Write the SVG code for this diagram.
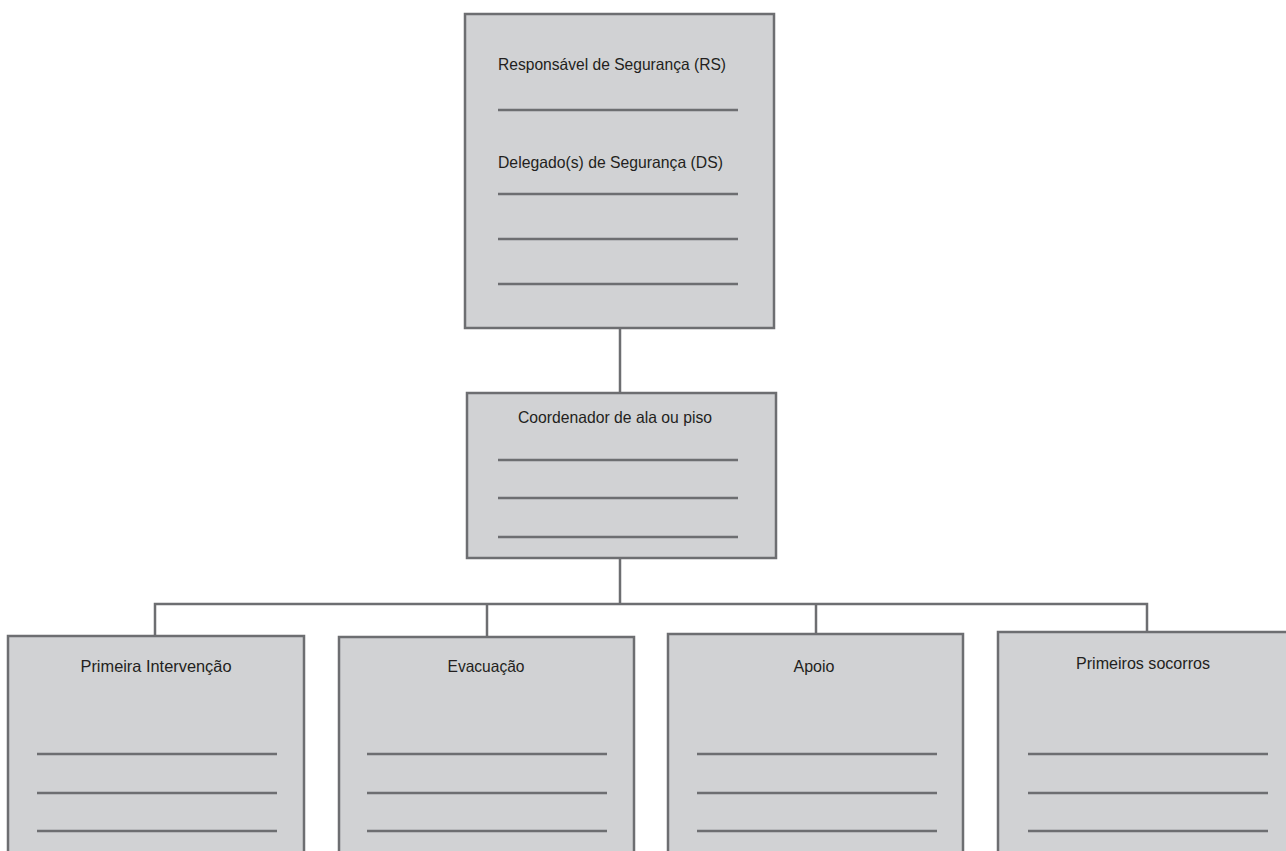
<svg xmlns="http://www.w3.org/2000/svg" width="1286" height="851" viewBox="0 0 1286 851">
<style>
.box{fill:#d1d2d4;stroke:#6d6e71;stroke-width:2.5}
.rule{stroke:#6d6e71;stroke-width:2.5}
.conn{fill:none;stroke:#6d6e71;stroke-width:2.5}
.t{font-family:"Liberation Sans",Arial,sans-serif;font-size:16.5px;fill:#231f20}
.c{text-anchor:middle}
</style>
<rect width="1286" height="851" fill="#ffffff"/>
<g id="connectors">
<line class="conn" x1="620" y1="328" x2="620" y2="393"/>
<line class="conn" x1="620" y1="558" x2="620" y2="604"/>
<polyline class="conn" points="155,636 155,604 1147,604 1147,632"/>
<line class="conn" x1="487" y1="604" x2="487" y2="637"/>
<line class="conn" x1="816" y1="604" x2="816" y2="634"/>
</g>
<g id="node-rs">
<rect class="box" x="465" y="14" width="309" height="314"/>
<text class="t" x="498" y="70" textLength="228" lengthAdjust="spacingAndGlyphs">Responsável de Segurança (RS)</text>
<line class="rule" x1="498" y1="110" x2="738" y2="110"/>
<text class="t" x="498" y="168" textLength="225" lengthAdjust="spacingAndGlyphs">Delegado(s) de Segurança (DS)</text>
<line class="rule" x1="498" y1="194" x2="738" y2="194"/>
<line class="rule" x1="498" y1="239" x2="738" y2="239"/>
<line class="rule" x1="498" y1="284" x2="738" y2="284"/>
</g>
<g id="node-coordenador">
<rect class="box" x="467" y="393" width="309" height="165"/>
<text class="t c" x="615" y="423" textLength="194" lengthAdjust="spacingAndGlyphs">Coordenador de ala ou piso</text>
<line class="rule" x1="498" y1="460" x2="738" y2="460"/>
<line class="rule" x1="498" y1="498" x2="738" y2="498"/>
<line class="rule" x1="498" y1="537" x2="738" y2="537"/>
</g>
<g id="node-primeira">
<rect class="box" x="8" y="636" width="296" height="220"/>
<text class="t c" x="156" y="672" textLength="151" lengthAdjust="spacingAndGlyphs">Primeira Intervenção</text>
<line class="rule" x1="37" y1="754" x2="277" y2="754"/>
<line class="rule" x1="37" y1="793" x2="277" y2="793"/>
<line class="rule" x1="37" y1="831" x2="277" y2="831"/>
</g>
<g id="node-evacuacao">
<rect class="box" x="339" y="637" width="295" height="220"/>
<text class="t c" x="486" y="672" textLength="77" lengthAdjust="spacingAndGlyphs">Evacuação</text>
<line class="rule" x1="367" y1="754" x2="607" y2="754"/>
<line class="rule" x1="367" y1="793" x2="607" y2="793"/>
<line class="rule" x1="367" y1="831" x2="607" y2="831"/>
</g>
<g id="node-apoio">
<rect class="box" x="668" y="634" width="295" height="222"/>
<text class="t c" x="814" y="672" textLength="41" lengthAdjust="spacingAndGlyphs">Apoio</text>
<line class="rule" x1="697" y1="754" x2="937" y2="754"/>
<line class="rule" x1="697" y1="793" x2="937" y2="793"/>
<line class="rule" x1="697" y1="831" x2="937" y2="831"/>
</g>
<g id="node-socorros">
<rect class="box" x="998" y="632" width="300" height="224"/>
<text class="t c" x="1143" y="669" textLength="134" lengthAdjust="spacingAndGlyphs">Primeiros socorros</text>
<line class="rule" x1="1028" y1="754" x2="1268" y2="754"/>
<line class="rule" x1="1028" y1="793" x2="1268" y2="793"/>
<line class="rule" x1="1028" y1="831" x2="1268" y2="831"/>
</g>
</svg>
